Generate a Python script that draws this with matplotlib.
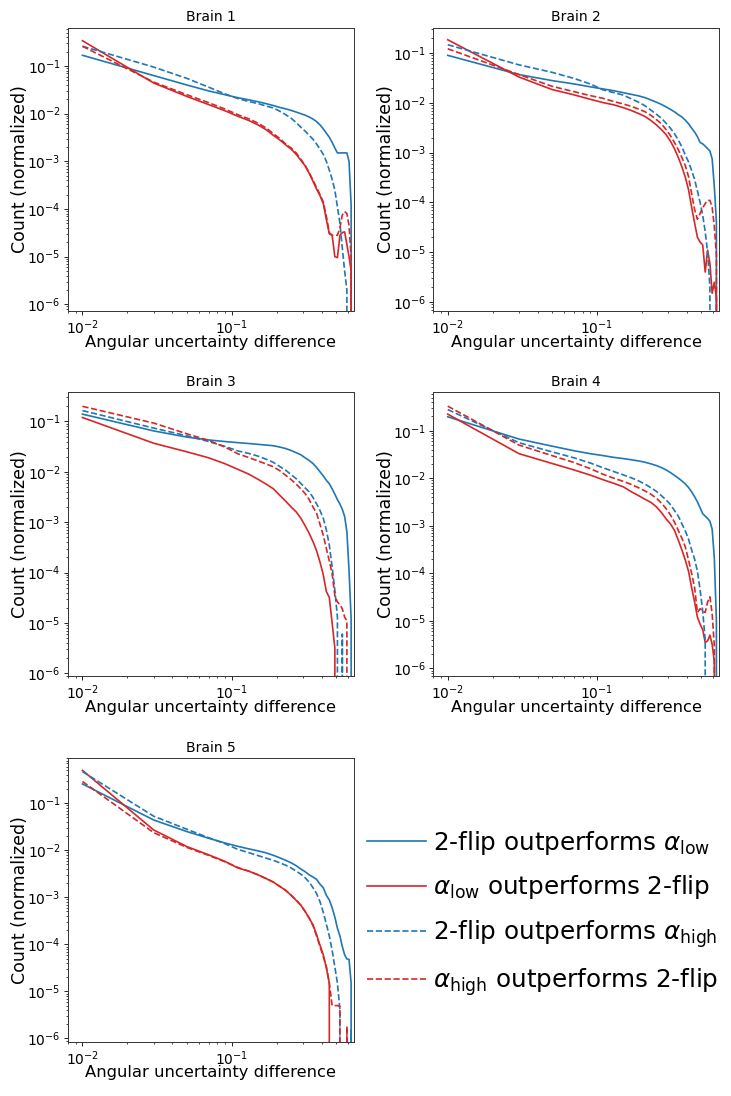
import matplotlib
matplotlib.use("Agg")
import matplotlib.pyplot as plt

# bin centres (angular uncertainty difference)
x_bins = [0.01, 0.03, 0.05, 0.07, 0.09, 0.11, 0.13, 0.15, 0.17, 0.19, 0.21,
          0.23, 0.25, 0.27, 0.29, 0.31, 0.33, 0.35, 0.37, 0.39, 0.41, 0.43,
          0.45, 0.47, 0.49, 0.51, 0.53, 0.55, 0.57, 0.59, 0.61, 0.63, 0.65]

series_labels = [r"2-flip outperforms $\alpha_{\mathrm{low}}$",
                 r"$\alpha_{\mathrm{low}}$ outperforms 2-flip",
                 r"2-flip outperforms $\alpha_{\mathrm{high}}$",
                 r"$\alpha_{\mathrm{high}}$ outperforms 2-flip"]
panel_titles = ["Brain 1", "Brain 2", "Brain 3", "Brain 4", "Brain 5"]

# ---------------- Brain 1 ----------------
b1_flip_low = [0.168, 0.063, 0.040, 0.030, 0.025, 0.0216, 0.0195, 0.0178, 0.0162, 0.0148, 0.0135,
               0.0126, 0.0117, 0.0108, 0.0100, 0.0093, 0.0085, 0.0077, 0.0068, 0.0058, 0.0048, 0.0039,
               0.0032, 0.0025, 0.0019, 0.0015, 0.0015, 0.0015, 0.0015, 0.0015, 0.0010, 0.00012, 0]
b1_low_flip = [0.34, 0.044, 0.023, 0.0155, 0.0115, 0.0088, 0.0072, 0.0058, 0.0046, 0.0035, 0.0028,
               0.0022, 0.0018, 0.0014, 0.00105, 0.0008, 0.00056, 0.00038, 0.00026, 0.00019, 0.00013, 6e-5,
               3e-5, 2.8e-5, 1e-5, 9.5e-6, 2.8e-5, 3.2e-5, 3.3e-5, 1.8e-5, 1e-5, 5e-6, 0]
b1_flip_high = [0.26, 0.095, 0.055, 0.036, 0.026, 0.0207, 0.0180, 0.0163, 0.0144, 0.0132, 0.0112,
                0.0095, 0.0080, 0.0065, 0.0052, 0.0043, 0.0035, 0.0029, 0.0023, 0.0018, 0.0014, 0.0010,
                0.00065, 0.00042, 0.00025, 0.00011, 5e-5, 1.5e-5, 5e-6, 2e-6, 0, 0, 0]
b1_high_flip = [0.26, 0.046, 0.025, 0.017, 0.0125, 0.0095, 0.0078, 0.0063, 0.0050, 0.0038, 0.0030,
                0.0023, 0.0019, 0.0015, 0.0011, 0.00082, 0.00058, 0.0004, 0.00028, 0.0002, 0.00014, 7e-5,
                3.2e-5, 2.8e-5, 2.8e-5, 2.8e-5, 4e-5, 7.5e-5, 8.8e-5, 8e-5, 4.5e-5, 1e-5, 0]

# ---------------- Brain 2 ----------------
b2_flip_low = [0.09, 0.037, 0.028, 0.024, 0.021, 0.019, 0.0175, 0.016, 0.0148, 0.0138, 0.0127,
               0.0114, 0.0103, 0.0093, 0.0083, 0.0074, 0.0066, 0.0058, 0.0052, 0.0045, 0.0038, 0.0031,
               0.0026, 0.0021, 0.0016, 0.0015, 0.00135, 0.0012, 0.00108, 0.00075, 0.00021, 4e-5, 0]
b2_low_flip = [0.185, 0.033, 0.0185, 0.0145, 0.0118, 0.0101, 0.0091, 0.0080, 0.0070, 0.0061, 0.0053,
               0.0044, 0.0036, 0.0029, 0.0023, 0.0017, 0.0012, 0.0008, 0.00052, 0.00032, 0.00018, 8e-5,
               3.9e-5, 2e-5, 1.6e-5, 1.4e-5, 4e-6, 1.1e-5, 6e-6, 1.5e-6, 2.5e-6, 1.2e-6, 0]
b2_flip_high = [0.147, 0.058, 0.041, 0.031, 0.024, 0.0182, 0.0160, 0.0143, 0.0120, 0.0103, 0.0087,
                0.0071, 0.0059, 0.0049, 0.0039, 0.0031, 0.0024, 0.0018, 0.0013, 0.0009, 0.00065, 0.00044,
                0.00029, 0.00017, 0.0001, 5.5e-5, 2.6e-5, 1e-5, 2e-6, 0, 0, 0, 0]
b2_high_flip = [0.122, 0.037, 0.0215, 0.0168, 0.0140, 0.0123, 0.0106, 0.0095, 0.0085, 0.0075, 0.0066,
                0.0056, 0.0046, 0.0038, 0.0029, 0.0022, 0.0016, 0.00115, 0.0008, 0.00055, 0.00033, 0.00015,
                7.2e-5, 4.6e-5, 6e-5, 7.8e-5, 9.5e-5, 0.00011, 0.00011, 8e-5, 3.3e-5, 9e-6, 0]

# ---------------- Brain 3 ----------------
b3_flip_low = [0.14, 0.065, 0.049, 0.043, 0.040, 0.038, 0.0365, 0.0352, 0.0340, 0.0330, 0.031,
               0.029, 0.0265, 0.024, 0.0218, 0.019, 0.0168, 0.0146, 0.0122, 0.0100, 0.0083, 0.0068,
               0.0058, 0.0046, 0.0036, 0.0028, 0.0023, 0.0018, 0.0013, 0.00065, 0.00011, 1.2e-5, 0]
b3_low_flip = [0.12, 0.037, 0.025, 0.019, 0.0145, 0.0112, 0.0090, 0.0071, 0.0057, 0.0046, 0.0034,
               0.0026, 0.0020, 0.0016, 0.0012, 0.00085, 0.0006, 0.00041, 0.00027, 0.00016, 9e-5, 4.2e-5,
               3.2e-5, 1e-5, 3.2e-6, 0, 0, 0, 0, 0, 0, 0, 0]
b3_flip_high = [0.165, 0.074, 0.052, 0.040, 0.032, 0.026, 0.0232, 0.0205, 0.0178, 0.0154, 0.0127,
                0.0107, 0.0088, 0.0073, 0.0059, 0.0048, 0.0040, 0.0031, 0.0023, 0.0017, 0.0012, 0.0007,
                0.00035, 0.00013, 4.5e-5, 1.3e-5, 0, 6e-6, 0, 0, 0, 0, 0]
b3_high_flip = [0.20, 0.093, 0.057, 0.042, 0.031, 0.0228, 0.0192, 0.0165, 0.0143, 0.0126, 0.0105,
                0.0085, 0.0070, 0.0057, 0.0046, 0.0037, 0.0028, 0.0020, 0.0015, 0.0009, 0.00055, 0.0003,
                0.00017, 9.5e-5, 3.5e-5, 2.6e-5, 2.3e-5, 1.9e-5, 1.3e-5, 1.1e-5, 0, 0, 0]

# ---------------- Brain 4 ----------------
b4_flip_low = [0.197, 0.067, 0.0475, 0.038, 0.033, 0.0300, 0.0275, 0.0260, 0.0245, 0.0232, 0.0217,
               0.0201, 0.0185, 0.0168, 0.0150, 0.0132, 0.0115, 0.0101, 0.0088, 0.0076, 0.0064, 0.0052,
               0.0041, 0.0032, 0.0024, 0.0018, 0.0016, 0.00143, 0.00125, 0.00085, 0.00021, 1e-5, 0]
b4_low_flip = [0.224, 0.033, 0.0205, 0.0150, 0.0117, 0.0093, 0.0078, 0.0066, 0.0052, 0.0043, 0.0036,
               0.0031, 0.0025, 0.0019, 0.0014, 0.0011, 0.0008, 0.0005, 0.00031, 0.00019, 0.00011, 5e-5,
               2.5e-5, 1.2e-5, 8.5e-6, 6.5e-6, 3.5e-6, 3.8e-6, 5e-6, 3.2e-6, 1.4e-6, 0, 0]
b4_flip_high = [0.28, 0.056, 0.036, 0.027, 0.021, 0.0166, 0.0138, 0.0118, 0.0102, 0.0088, 0.0075,
                0.0063, 0.0053, 0.0043, 0.0035, 0.0028, 0.0021, 0.0016, 0.0011, 0.00078, 0.00052, 0.00031,
                0.0002, 0.00011, 4.5e-5, 1.6e-5, 4e-6, 0, 0, 0, 0, 0, 0]
b4_high_flip = [0.33, 0.050, 0.030, 0.0215, 0.016, 0.0121, 0.0100, 0.0086, 0.0074, 0.0063, 0.0054,
                0.0046, 0.0038, 0.0030, 0.0023, 0.0017, 0.0012, 0.0008, 0.00055, 0.00036, 0.00019, 0.0001,
                5e-5, 1.5e-5, 1.8e-5, 1.6e-5, 1.5e-5, 2.5e-5, 3.2e-5, 1.4e-5, 3e-6, 0, 0]

# ---------------- Brain 5 ----------------
b5_flip_low = [0.257, 0.044, 0.025, 0.018, 0.0143, 0.0121, 0.0107, 0.0097, 0.0088, 0.0078, 0.0069,
               0.0061, 0.0054, 0.0047, 0.0040, 0.0035, 0.0030, 0.0027, 0.0024, 0.0019, 0.0016, 0.0011,
               0.00088, 0.0006, 0.00038, 0.00022, 0.00015, 9e-5, 6e-5, 4.9e-5, 4.8e-5, 1.5e-5, 0]
b5_low_flip = [0.50, 0.027, 0.012, 0.0080, 0.0058, 0.0042, 0.0036, 0.0030, 0.0025, 0.0021, 0.0017,
               0.0014, 0.0011, 0.00086, 0.00068, 0.0005, 0.00036, 0.00026, 0.00016, 9.5e-5, 6e-5, 3.2e-5,
               1.5e-5, 0, 0, 0, 0, 0, 0, 0, 0, 0, 0]
b5_flip_high = [0.47, 0.053, 0.028, 0.0185, 0.0138, 0.0104, 0.0089, 0.0077, 0.0068, 0.0061, 0.0054,
                0.0048, 0.0042, 0.0036, 0.0031, 0.0026, 0.0021, 0.0016, 0.0012, 0.0008, 0.00048, 0.00027,
                0.00015, 7.5e-5, 3.3e-5, 1.5e-5, 4e-6, 0, 0, 0, 0, 1.5e-6, 0]
b5_high_flip = [0.29, 0.0237, 0.0115, 0.0078, 0.0057, 0.0043, 0.0036, 0.0030, 0.0025, 0.0021, 0.0017,
                0.0014, 0.0011, 0.00088, 0.00068, 0.0005, 0.00036, 0.00025, 0.00015, 9e-5, 5.5e-5, 3.3e-5,
                1.5e-5, 5e-6, 5e-6, 5e-6, 4.8e-6, 0, 0, 1.8e-6, 0, 0, 0]

brains = [
    (b1_flip_low, b1_low_flip, b1_flip_high, b1_high_flip),
    (b2_flip_low, b2_low_flip, b2_flip_high, b2_high_flip),
    (b3_flip_low, b3_low_flip, b3_flip_high, b3_high_flip),
    (b4_flip_low, b4_low_flip, b4_flip_high, b4_high_flip),
    (b5_flip_low, b5_low_flip, b5_flip_high, b5_high_flip),
]
y_limits = [(7.2e-7, 0.643), (6.6e-7, 0.326), (8.8e-7, 0.377), (6.9e-7, 0.64), (8.5e-7, 0.906)]
x_limits = (0.0080, 0.658)

colors = ["#1f77b4", "#d62728", "#1f77b4", "#d62728"]
styles = ["-", "-", "--", "--"]

fig = plt.figure(figsize=(7.31, 10.96), dpi=100)
lefts = [0.0930, 0.5927]
bottoms = [0.7162, 0.3832, 0.0495]
w, h = 0.3912, 0.2587

handles = None
for i, (series, title, ylim) in enumerate(zip(brains, panel_titles, y_limits)):
    r, c = divmod(i, 2)
    ax = fig.add_axes([lefts[c], bottoms[r], w, h])
    lines = []
    for vals, col, ls, lab in zip(series, colors, styles, series_labels):
        ln, = ax.plot(x_bins, vals, color=col, linestyle=ls, linewidth=1.2, label=lab)
        lines.append(ln)
    if handles is None:
        handles = lines
    ax.set_xscale("log")
    ax.set_yscale("log")
    ax.set_xlim(*x_limits)
    ax.set_ylim(*ylim)
    ax.set_title(title, fontsize=10, pad=4.5)
    ax.set_xlabel("Angular uncertainty difference", fontsize=11.8, labelpad=-1.5)
    ax.set_ylabel("Count (normalized)", fontsize=12.5, labelpad=-1.5)
    ax.tick_params(which="major", labelsize=10, length=2.7, width=0.6, pad=2.5)
    ax.tick_params(which="minor", length=1.6, width=0.5)
    for sp in ax.spines.values():
        sp.set_linewidth(0.7)
        sp.set_edgecolor("#333333")

fig.legend(handles, series_labels, loc="center left", bbox_to_anchor=(0.502, 0.1665),
           frameon=False, fontsize=17.7, handlelength=2.4, handletextpad=0.3,
           labelspacing=0.68, borderpad=0, borderaxespad=0)

fig.savefig("out.png", dpi=100)
